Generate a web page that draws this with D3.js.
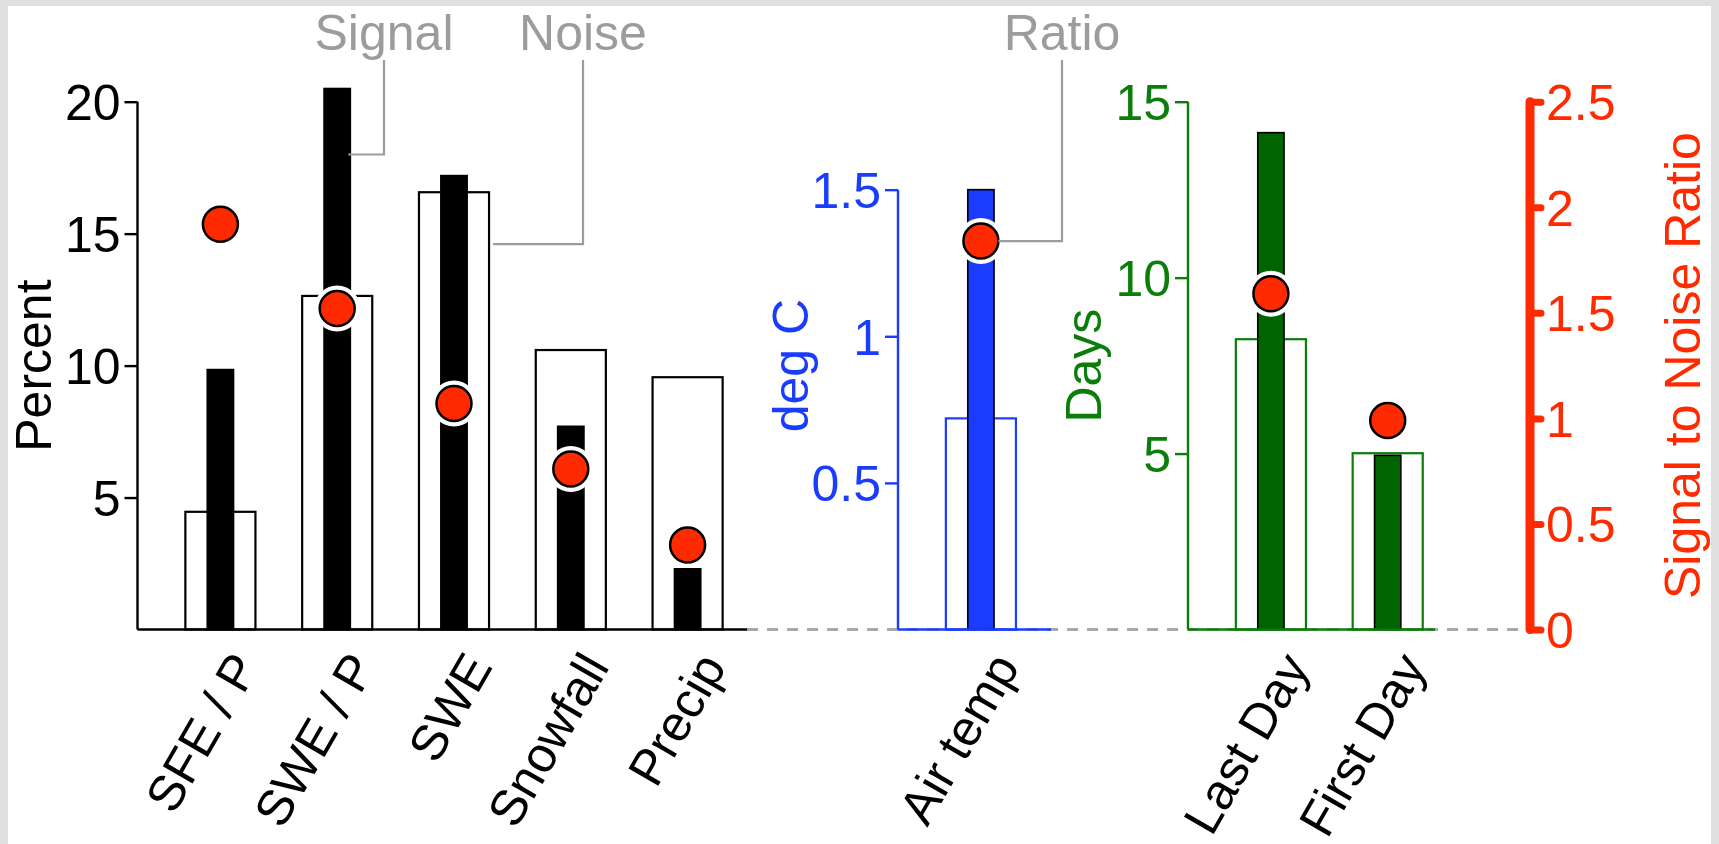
<!DOCTYPE html>
<html><head><meta charset="utf-8">
<script src="https://cdn.jsdelivr.net/npm/d3@7/dist/d3.min.js"></script>
<style>
html,body{margin:0;padding:0;background:#e0e0e0;overflow:hidden}
svg{display:block}
text{font-family:"Liberation Sans",Arial,Helvetica,sans-serif}
</style></head><body>
<svg id="chart" width="1719" height="844"></svg>
<script>
// ---------------- data ----------------
const leftCategories = ["SFE / P", "SWE / P", "SWE", "Snowfall", "Precip"];
const leftSignal = [9.85, 20.5, 17.2, 7.7, 2.3];
const leftNoise  = [4.46, 12.64, 16.57, 10.59, 9.56];
const leftRatio  = [1.92, 1.52, 1.07, 0.76, 0.40];

const midCategories = ["Air temp"];
const midSignal = [1.5];
const midNoise  = [0.72];
const midRatio  = [1.84];

const rightCategories = ["Last Day", "First Day"];
const rightSignal = [14.12, 4.95];
const rightNoise  = [8.25, 5.01];
const rightRatio  = [1.59, 0.99];

const percentTicks = [5, 10, 15, 20];
const degTicks = [0.5, 1, 1.5];
const dayTicks = [5, 10, 15];
const ratioTicks = [0, 0.5, 1, 1.5, 2, 2.5];

const annotationLabels = ["Signal", "Noise", "Ratio"];

// ---------------- styles ----------------
const BLUE = "#1a3cff", GREEN_TXT = "#0a7d0a", GREEN_BAR = "#006400", RED = "#ff2a00", GRAY = "#9c9c9c";
const FS = 50;

const svg = d3.select("#chart");
svg.append("rect").attr("x", 8).attr("y", 6).attr("width", 1703).attr("height", 838).attr("fill", "#fff");

const y0 = 629.5, yTop = 101.7;
const yPct = d3.scaleLinear().domain([0, 20]).range([y0, yTop]);
const yDeg = d3.scaleLinear().domain([0, 1.8]).range([y0, yTop]);
const yDay = d3.scaleLinear().domain([0, 15]).range([y0, yTop]);
const yRatio = d3.scaleLinear().domain([0, 2.5]).range([y0, yTop]);
const step = 116.8;
const DOT_R = 17.5;

// dashed reference line
svg.append("line").attr("x1", 747).attr("x2", 1522).attr("y1", y0).attr("y2", y0)
  .attr("stroke", "#a8a8a8").attr("stroke-width", 2.8).attr("stroke-dasharray", "11,9");

const panels = [
  {cats: leftCategories, signal: leftSignal, noise: leftNoise, ratio: leftRatio, y: yPct, axisX: 137.5, end: 747,
   ticks: percentTicks, color: "#000", sigFill: "#000", noiseStroke: "#000", title: "Percent", titleX: 51, axisTopVal: 20},
  {cats: midCategories, signal: midSignal, noise: midNoise, ratio: midRatio, y: yDeg, axisX: 898, end: 1051,
   ticks: degTicks, color: BLUE, sigFill: BLUE, noiseStroke: BLUE, title: "deg C", titleX: 808, axisTopVal: 1.5},
  {cats: rightCategories, signal: rightSignal, noise: rightNoise, ratio: rightRatio, y: yDay, axisX: 1188, end: 1435,
   ticks: dayTicks, color: GREEN_TXT, sigFill: GREEN_BAR, noiseStroke: GREEN_TXT, title: "Days", titleX: 1101, axisTopVal: 15}
];

panels.forEach(p => {
  const x = d3.scaleBand().domain(p.cats).range([p.axisX + 24.5, p.axisX + 24.5 + step * p.cats.length]).padding(0);
  p.x = x;
  const cx = c => x(c) + x.bandwidth() / 2;
  const nW = x.bandwidth() * 0.6, sW = x.bandwidth() * 0.225;
  const g = svg.append("g");
  // noise
  g.selectAll("rect.noise").data(p.cats).join("rect").attr("class", "noise")
    .attr("x", c => cx(c) - nW / 2).attr("width", nW)
    .attr("y", (c, i) => p.y(p.noise[i])).attr("height", (c, i) => y0 - p.y(p.noise[i]))
    .attr("fill", "#fff").attr("stroke", p.noiseStroke).attr("stroke-width", 2.2);
  // signal
  g.selectAll("rect.signal").data(p.cats).join("rect").attr("class", "signal")
    .attr("x", c => cx(c) - sW / 2).attr("width", sW)
    .attr("y", (c, i) => p.y(p.signal[i])).attr("height", (c, i) => y0 - p.y(p.signal[i]))
    .attr("fill", p.sigFill).attr("stroke", "#000").attr("stroke-width", 1.6);
  // baseline
  g.append("line").attr("x1", p.axisX).attr("x2", p.end).attr("y1", y0).attr("y2", y0)
    .attr("stroke", p.color === "#000" ? "#000" : p.noiseStroke).attr("stroke-width", 2.6);
  // dots
  const dg = g.selectAll("g.dot").data(p.cats).join("g").attr("class", "dot");
  dg.append("circle").attr("cx", cx).attr("cy", (c, i) => yRatio(p.ratio[i])).attr("r", DOT_R + 5.5).attr("fill", "#fff");
  dg.append("circle").attr("cx", cx).attr("cy", (c, i) => yRatio(p.ratio[i])).attr("r", DOT_R)
    .attr("fill", RED).attr("stroke", "#000").attr("stroke-width", 2.5);
  // axis
  const ax = g.append("g").attr("transform", `translate(${p.axisX},0)`)
    .call(d3.axisLeft(p.y).tickValues(p.ticks).tickSize(13).tickSizeOuter(0).tickPadding(4).tickFormat(d => String(d)));
  ax.select(".domain").remove();
  ax.append("line").attr("x1", 0).attr("x2", 0).attr("y1", y0).attr("y2", p.y(p.axisTopVal))
    .attr("stroke", p.color).attr("stroke-width", 2.4);
  ax.selectAll(".tick line").attr("stroke", p.color).attr("stroke-width", 2.4);
  ax.selectAll(".tick text").attr("fill", p.color).attr("font-size", FS)
    .attr("font-family", '"Liberation Sans",Arial,sans-serif').attr("dy", "0.36em");
  // axis title
  g.append("text").attr("transform", `translate(${p.titleX},365.6) rotate(-90)`)
    .attr("text-anchor", "middle").attr("font-size", FS).attr("fill", p.color).text(p.title);
  // category labels
  g.selectAll("text.cat").data(p.cats).join("text").attr("class", "cat")
    .attr("transform", c => `translate(${cx(c) + 39.5},666.6) rotate(-60)`)
    .attr("text-anchor", "end").attr("font-size", 50).attr("fill", "#000").text(c => c);
});

// ratio axis
const rax = svg.append("g").attr("transform", "translate(1530,0)")
  .call(d3.axisRight(yRatio).tickValues(ratioTicks).tickSize(11).tickSizeOuter(0).tickPadding(5).tickFormat(d => String(d)));
rax.select(".domain").remove();
rax.append("line").attr("x1", 0).attr("x2", 0).attr("y1", y0).attr("y2", yTop)
  .attr("stroke", RED).attr("stroke-width", 9).attr("stroke-linecap", "round");
rax.selectAll(".tick line").attr("stroke", RED).attr("stroke-width", 7).attr("stroke-linecap", "round");
rax.selectAll(".tick text").attr("fill", RED).attr("font-size", FS)
  .attr("font-family", '"Liberation Sans",Arial,sans-serif').attr("dy", "0.36em");
svg.append("text").attr("transform", "translate(1700,365.6) rotate(-90)")
  .attr("text-anchor", "middle").attr("font-size", FS).attr("fill", RED).text("Signal to Noise Ratio");

// annotations
const L = panels[0], M = panels[1];
const lcx = c => L.x(c) + L.x.bandwidth() / 2;
const mcx = c => M.x(c) + M.x.bandwidth() / 2;
const ann = [
  {label: annotationLabels[0], tx: 384, ex: lcx("SWE / P") + L.x.bandwidth() * 0.225 / 2 - 2, ey: yPct(18)},
  {label: annotationLabels[1], tx: 583, ex: lcx("SWE") + L.x.bandwidth() * 0.6 / 2 + 4, ey: yPct(14.6)},
  {label: annotationLabels[2], tx: 1062, ex: mcx("Air temp") + DOT_R, ey: yRatio(midRatio[0])}
];
ann.forEach(a => {
  svg.append("text").attr("x", a.tx).attr("y", 50).attr("text-anchor", "middle")
    .attr("font-size", FS).attr("fill", GRAY).text(a.label);
  svg.append("path").attr("d", `M${a.tx},60 V${a.ey} H${a.ex}`)
    .attr("fill", "none").attr("stroke", GRAY).attr("stroke-width", 2.2);
});
</script>
</body></html>
